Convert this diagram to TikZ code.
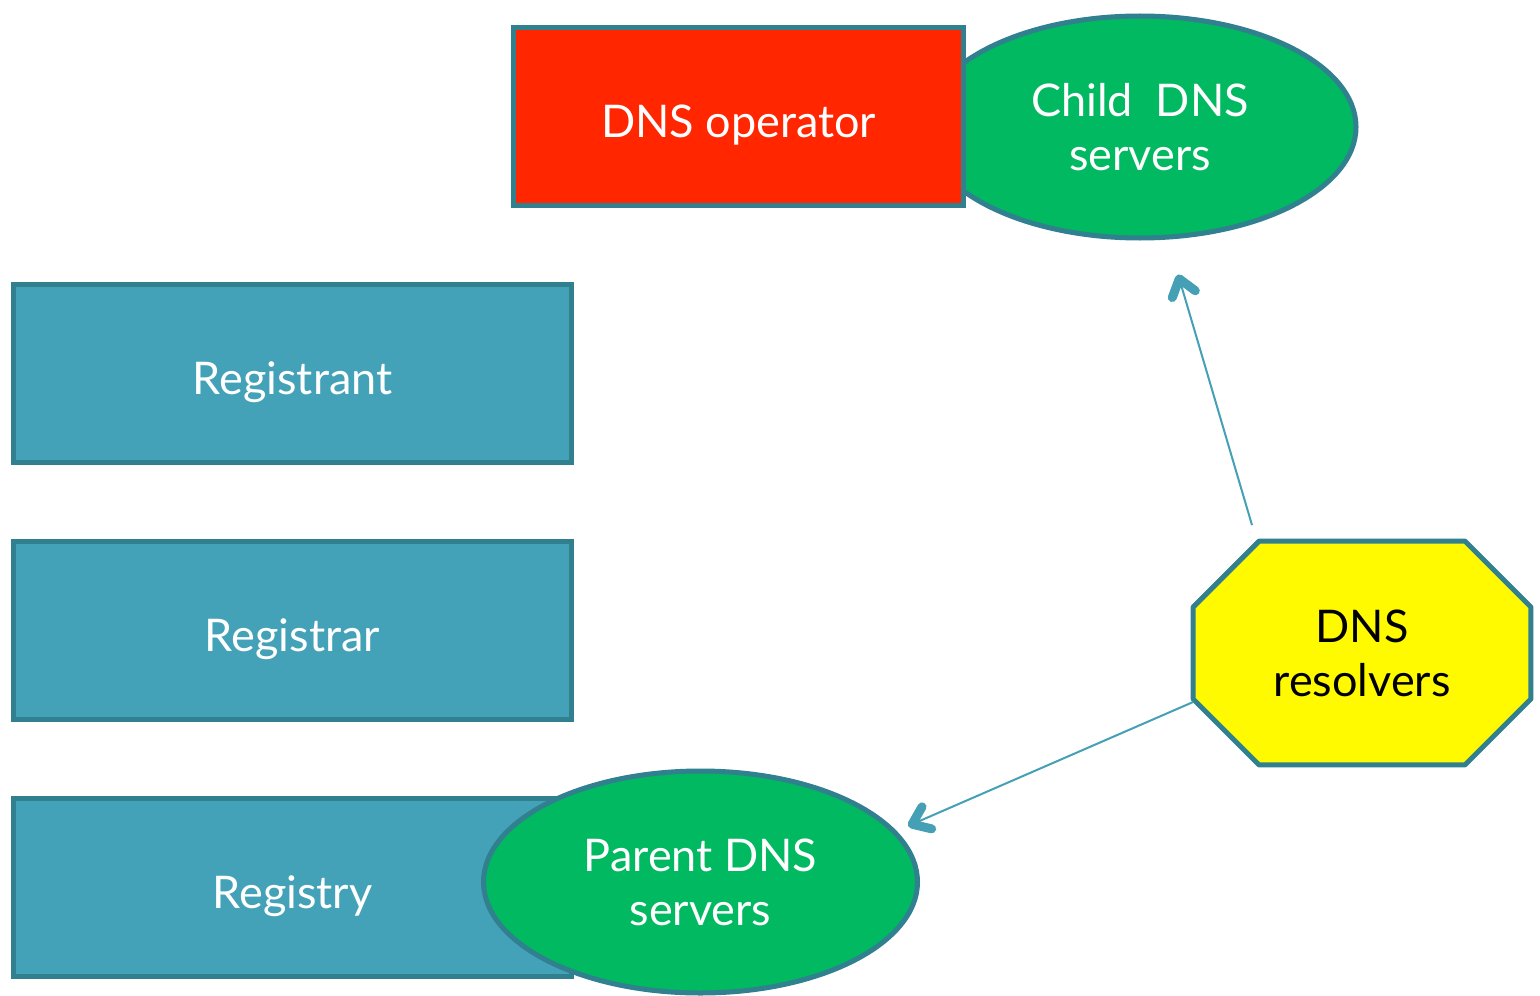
\documentclass[tikz,border=0pt]{standalone}
\usepackage{fontspec}
\setmainfont{Lato}
\usetikzlibrary{shapes.geometric,positioning,arrows.meta,backgrounds}

\definecolor{edgeteal}{HTML}{31808F}
\definecolor{boxteal}{HTML}{44A2B8}
\definecolor{srvgreen}{HTML}{00B960}
\definecolor{oprred}{HTML}{FF2600}
\definecolor{reslvyellow}{HTML}{FFFA00}
\definecolor{linkteal}{HTML}{45A0B5}

\begin{document}
\begin{tikzpicture}[x=0.5pt,y=-0.5pt,
    role/.style={draw=edgeteal, line width=2.5pt, fill=boxteal, text=white,
        minimum width=279pt, minimum height=89pt, inner sep=0pt,
        text height=21pt, text depth=0pt,
        font=\fontsize{22.5}{27}\selectfont},
    server/.style={ellipse, draw=edgeteal, line width=2.5pt, fill=srvgreen,
        text=white, align=center, inner sep=0pt,
        minimum width=216pt, minimum height=111pt,
        font=\fontsize{22.5}{27}\selectfont},
    link/.style={draw=linkteal, line width=1pt,
        -{Straight Barb[length=8pt,width=12pt,line width=4.5pt,round]}}]
    \useasboundingbox (0,0) rectangle (1540,995);

    % child side
    \node[server] (child) at (1140,127) {Child\ \ DNS\\servers};
    \node[role, fill=oprred, minimum width=225pt, minimum height=89pt]
        (operator) at (738.5,116.5) {DNS operator};

    % registration chain
    \node[role] (registrant) at (292.5,373.5) {Registrant};
    \node[role] (registrar)  at (292.5,630.5) {Registrar};
    \node[role] (registry)   at (292.5,887.5) {Registry};
    \node[server, minimum width=217pt] (parent) at (700.5,882) {Parent DNS\\servers};

    % resolvers, octagon drawn behind the node
    \node[align=center, inner sep=0pt, minimum width=168.5pt,
        minimum height=111.5pt, font=\fontsize{22.5}{27}\selectfont]
        (resolver) at (1362,653) {DNS\\resolvers};
    \begin{scope}[on background layer]
        \draw[draw=edgeteal, line width=2.5pt, fill=reslvyellow, line join=round]
            ([xshift=33pt]resolver.north west) -- ([xshift=-33pt]resolver.north east)
            -- ([yshift=-33pt]resolver.north east) -- ([yshift=33pt]resolver.south east)
            -- ([xshift=-33pt]resolver.south east) -- ([xshift=33pt]resolver.south west)
            -- ([yshift=33pt]resolver.south west) -- ([yshift=-33pt]resolver.north west)
            -- cycle;
    \end{scope}

    \draw[link] ([shift={(-55pt,8pt)}]resolver.north)
        -- ([shift={(19pt,-17pt)}]child.south);
    \draw[link] ([yshift=-24.5pt]resolver.west)
        -- ([shift={(-6pt,28pt)}]parent.east);
\end{tikzpicture}
\end{document}
